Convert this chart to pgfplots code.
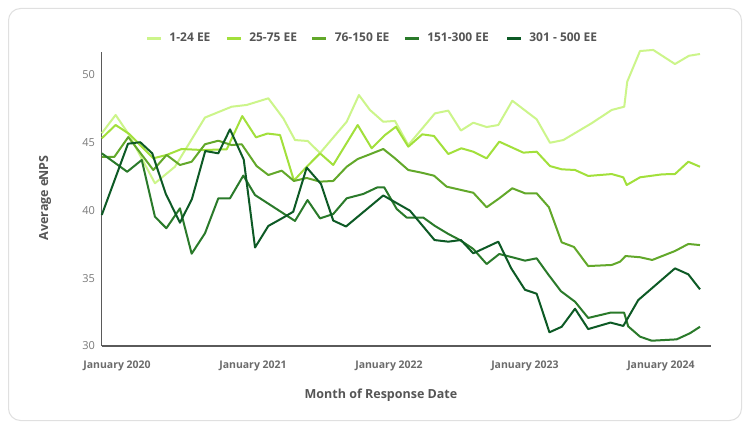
\documentclass[border=0pt]{standalone}
\usepackage{fontspec}
\setmainfont{Open Sans}
\usepackage{pgfplots}
\pgfplotsset{compat=1.18}
\definecolor{c1}{HTML}{CCF58A}
\definecolor{c2}{HTML}{A2E03B}
\definecolor{c3}{HTML}{62A82A}
\definecolor{c4}{HTML}{2A7A2A}
\definecolor{c5}{HTML}{0D5A25}
\definecolor{bordergray}{HTML}{E0E0E0}
\definecolor{axisgray}{HTML}{5A5A5A}
\definecolor{tickgray}{HTML}{6B6B6B}
\definecolor{ytickgray}{HTML}{7A7A7A}
\definecolor{titlegray}{HTML}{555555}
\begin{document}
\begin{tikzpicture}
\path[use as bounding box] (0,0) rectangle (750pt,429pt);
\fill[white] (0,0) rectangle (750pt,429pt);
\draw[draw=bordergray, line width=1pt, rounded corners=12pt] (8.5pt,8.5pt) rectangle (741.5pt,420.5pt);
\begin{axis}[
  at={(101.7pt,83pt)}, anchor=south west,
  scale only axis, width=609.3pt, height=294.3pt,
  xmin=2019.8875, xmax=2024.368, ymin=30, ymax=51.72,
  clip=false,
  axis x line*=bottom, axis y line*=left,
  axis line style={draw=axisgray, line width=1.2pt},
  major tick length=0pt,
  xtick={2020,2021,2022,2023,2024},
  xticklabels={January 2020,January 2021,January 2022,January 2023,January 2024},
  ytick={30,35,40,45,50},
  /pgf/number format/assume math mode=true,
  xticklabel style={font=\fontsize{10.5}{12}\selectfont\bfseries, text=tickgray, inner sep=0pt, anchor=north},
  xticklabel shift=15pt,
  yticklabel style={font=\fontsize{11}{12}\selectfont, text=ytickgray, inner sep=0pt, anchor=east},
  yticklabel shift=6.5pt,
  xlabel={Month of Response Date},
  ylabel={Average e\kern-0.9pt NPS},
  xlabel style={font=\fontsize{12.5}{14}\selectfont\bfseries, text=titlegray, at={(axis description cs:0.4584,-0.1665)}, anchor=center, inner sep=0pt},
  ylabel style={font=\fontsize{12.5}{14}\selectfont\bfseries, text=titlegray, at={(axis description cs:-0.0931,0.503)}, anchor=center, inner sep=0pt},
  legend columns=5,
  legend cell align=left,
  legend style={at={(axis description cs:0.0722,1.0455)}, anchor=west, draw=none, fill=none, inner sep=0pt, outer sep=0pt,
    font=\fontsize{12}{13}\selectfont\bfseries, text=titlegray, nodes={inner sep=0pt},
    /tikz/every odd column/.append style={column sep=7.2pt},
    /tikz/every even column/.append style={column sep=0pt}},
  legend image code/.code={\draw[#1, line width=3pt, line cap=butt] (0pt,0pt) -- (13.6pt,0pt);},
  every axis plot/.append style={line width=2pt, line join=round, no markers},
]
\addplot[c1] coordinates {
(2019.888,45.70) (2019.990,47.05) (2020.090,45.57) (2020.279,42.01) (2020.426,43.23)
(2020.647,46.86) (2020.843,47.66) (2020.954,47.79) (2021.113,48.28) (2021.223,46.80)
(2021.309,45.20) (2021.402,45.13) (2021.493,44.24) (2021.689,46.55) (2021.779,48.52)
(2021.860,47.42) (2021.958,46.55) (2022.044,46.61) (2022.142,44.83) (2022.338,47.17)
(2022.436,47.37) (2022.529,45.90) (2022.620,46.48) (2022.718,46.16) (2022.804,46.31)
(2022.907,48.10) (2023.086,46.73) (2023.184,45.00) (2023.282,45.20) (2023.490,46.44)
(2023.638,47.42) (2023.730,47.66) (2023.752,49.51) (2023.846,51.77) (2023.943,51.85)
(2024.103,50.81) (2024.206,51.42) (2024.287,51.55)
};
\addlegendentry{\makebox[56pt][l]{1-24 EE}}
\addplot[c2] coordinates {
(2019.888,45.33) (2019.990,46.31) (2020.090,45.65) (2020.267,43.85) (2020.365,44.10)
(2020.476,44.54) (2020.635,44.46) (2020.807,44.52) (2020.921,46.97) (2021.022,45.40)
(2021.107,45.68) (2021.199,45.57) (2021.301,42.21) (2021.395,43.23) (2021.493,44.22)
(2021.590,43.36) (2021.770,46.31) (2021.873,44.59) (2021.971,45.57) (2022.051,46.18)
(2022.142,44.71) (2022.245,45.62) (2022.331,45.50) (2022.436,44.17) (2022.532,44.59)
(2022.620,44.34) (2022.718,43.85) (2022.811,45.08) (2022.988,44.27) (2023.086,44.34)
(2023.184,43.28) (2023.270,43.04) (2023.368,42.99) (2023.465,42.55) (2023.638,42.69)
(2023.723,42.45) (2023.748,41.88) (2023.846,42.45) (2024.010,42.67) (2024.103,42.69)
(2024.201,43.60) (2024.287,43.23)
};
\addlegendentry{\makebox[61.7pt][l]{25-75 EE}}
\addplot[c3] coordinates {
(2019.888,43.95) (2019.980,43.95) (2020.083,45.42) (2020.267,42.99) (2020.365,44.10)
(2020.463,43.36) (2020.549,43.60) (2020.647,44.89) (2020.745,45.15) (2020.843,44.83)
(2020.917,44.89) (2021.027,43.28) (2021.113,42.62) (2021.211,42.94) (2021.301,42.18)
(2021.395,42.40) (2021.493,42.13) (2021.590,42.18) (2021.689,43.23) (2021.770,43.80)
(2021.860,44.15) (2021.958,44.54) (2022.044,43.85) (2022.142,42.99) (2022.240,42.79)
(2022.331,42.57) (2022.424,41.76) (2022.620,41.31) (2022.718,40.24) (2022.811,40.90)
(2022.907,41.64) (2023.000,41.27) (2023.086,41.27) (2023.176,40.24) (2023.270,37.65)
(2023.360,37.31) (2023.465,35.90) (2023.638,35.98) (2023.699,36.22) (2023.740,36.64)
(2023.846,36.55) (2023.936,36.35) (2024.103,37.01) (2024.201,37.53) (2024.287,37.45)
};
\addlegendentry{\makebox[68.7pt][l]{76-150 EE}}
\addplot[c4] coordinates {
(2019.888,44.22) (2020.075,42.86) (2020.182,43.73) (2020.279,39.54) (2020.363,38.69)
(2020.463,40.16) (2020.549,36.81) (2020.647,38.32) (2020.745,40.90) (2020.831,40.90)
(2020.929,42.58) (2021.015,41.14) (2021.309,39.23) (2021.401,40.77) (2021.493,39.42)
(2021.590,39.74) (2021.689,40.90) (2021.811,41.22) (2021.915,41.71) (2021.965,41.71)
(2022.057,40.11) (2022.130,39.48) (2022.252,39.48) (2022.338,38.86) (2022.436,38.27)
(2022.522,37.82) (2022.620,37.16) (2022.718,36.05) (2022.811,36.79) (2022.907,36.55)
(2023.000,36.30) (2023.086,36.47) (2023.169,35.31) (2023.265,34.04) (2023.368,33.27)
(2023.465,32.07) (2023.632,32.47) (2023.729,32.46) (2023.759,31.45) (2023.846,30.69)
(2023.932,30.39) (2024.115,30.49) (2024.213,30.94) (2024.287,31.42)
};
\addlegendentry{\makebox[78.3pt][l]{151-300 EE}}
\addplot[c5] coordinates {
(2019.888,39.67) (2020.081,44.93) (2020.171,45.04) (2020.259,44.22) (2020.359,41.22)
(2020.463,39.10) (2020.551,40.85) (2020.649,44.39) (2020.745,44.22) (2020.831,45.99)
(2020.932,43.76) (2021.015,37.27) (2021.113,38.86) (2021.211,39.41) (2021.296,39.91)
(2021.395,43.17) (2021.500,41.96) (2021.590,39.26) (2021.684,38.82) (2021.958,41.11)
(2022.154,39.99) (2022.335,37.82) (2022.436,37.70) (2022.529,37.82) (2022.620,36.84)
(2022.804,37.70) (2022.899,35.73) (2023.000,34.15) (2023.086,33.86) (2023.180,31.01)
(2023.270,31.42) (2023.368,32.75) (2023.465,31.25) (2023.629,31.73) (2023.723,31.48)
(2023.833,33.39) (2024.103,35.73) (2024.201,35.29) (2024.287,34.18)
};
\addlegendentry{301 - 500 EE}
\end{axis}
\end{tikzpicture}
\end{document}
